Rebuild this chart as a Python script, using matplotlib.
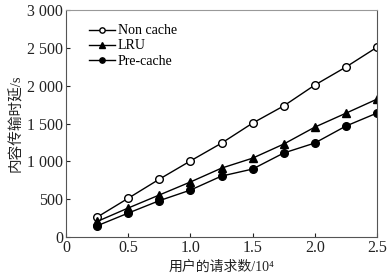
import matplotlib
matplotlib.use('Agg')
import matplotlib.pyplot as plt

plt.rcParams['font.family'] = ['Liberation Serif', 'Noto Sans CJK SC']

requests = [0.25, 0.5, 0.75, 1.0, 1.25, 1.5, 1.75, 2.0, 2.25, 2.5]
non_cache = [262, 512, 764, 1005, 1240, 1505, 1732, 2008, 2246, 2508]
lru = [205, 383, 555, 727, 910, 1042, 1228, 1452, 1636, 1822]
pre_cache = [148, 316, 480, 620, 805, 898, 1110, 1242, 1466, 1638]

y_ticks = [0, 500, 1000, 1500, 2000, 2500, 3000]
y_labels = ['0', '500', '1 000', '1 500', '2 000', '2 500', '3 000']
x_ticks = [0, 0.5, 1.0, 1.5, 2.0, 2.5]
x_labels = ['0', '0.5', '1.0', '1.5', '2.0', '2.5']

fig = plt.figure(figsize=(3.9, 2.77), dpi=100)
ax = fig.add_axes([66 / 390, 40 / 277, 311 / 390, 227 / 277])

ax.plot(requests, non_cache, '-o', color='black', mfc='white', ms=5.5, mew=1, lw=1, label='Non cache')
ax.plot(requests, lru, '-^', color='black', ms=6, lw=1, label='LRU')
ax.plot(requests, pre_cache, '-o', color='black', ms=5.5, lw=1, label='Pre-cache')

ax.set_xlim(0, 2.5)
ax.set_ylim(0, 3000)
ax.set_xticks(x_ticks)
ax.set_xticklabels(x_labels)
ax.set_yticks(y_ticks)
ax.set_yticklabels(y_labels)
ax.tick_params(direction='in', labelsize=11.5, length=3, pad=2, colors='#222222')
for s in ax.spines.values():
    s.set_color('#555555')
    s.set_linewidth(0.8)
ax.spines['top'].set_color('#999999')

ax.set_xlabel('用户的请求数/10⁴', fontsize=10, labelpad=3, color='#222222')
ax.set_ylabel('内容传输时延/s', fontsize=10.5, labelpad=3, color='#222222')

ax.legend(loc='upper left', bbox_to_anchor=(0.06, 0.955), frameon=False, fontsize=10,
          handlelength=1.9, handletextpad=0.2, labelspacing=0.15, borderaxespad=0,
          markerscale=0.7, borderpad=0.3)

fig.savefig('out.png', dpi=100)
